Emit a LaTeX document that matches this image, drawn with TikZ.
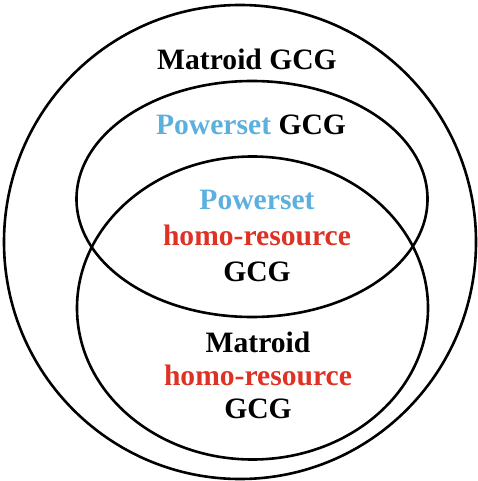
\documentclass[tikz,border=0pt]{standalone}
\usepackage{fontspec}
\setmainfont{Liberation Serif}
\usetikzlibrary{shapes.geometric, positioning}
\definecolor{psblue}{RGB}{92,176,222}
\definecolor{homored}{RGB}{222,50,36}
\tikzset{set/.style={draw, ellipse, line width=2.6pt, inner sep=0pt},
         label/.style={font=\fontsize{29.6}{36}\selectfont\bfseries, align=center, inner sep=0pt}}

\begin{document}
\begin{tikzpicture}[x=1pt, y=-1pt]
        \useasboundingbox (0,0) rectangle (477,481);
        % the three sets
        \node[set, minimum width=472pt, minimum height=474pt] (matroid) at (240,242) {};
        \node[set, minimum width=351pt, minimum height=236pt] (powerset) at (252,199) {};
        \node[set, minimum width=351pt, minimum height=303pt] (homo) at (252.5,308) {};

        % labels
        \node[label] (matroidlab) at (247,59) {Matroid GCG};
        \node[label] (powersetlab) at (251,125) {\textcolor{psblue}{Powerset} GCG};
        \node[label] (bothlab) at (257,236) {\textcolor{psblue}{Powerset}\\ \textcolor{homored}{homo-resource}\\ GCG};
        \node[label, font=\fontsize{29.6}{33}\selectfont\bfseries] (homolab) at (258,375) {Matroid\\ \textcolor{homored}{homo-resource}\\ GCG};
    \end{tikzpicture}
\end{document}
